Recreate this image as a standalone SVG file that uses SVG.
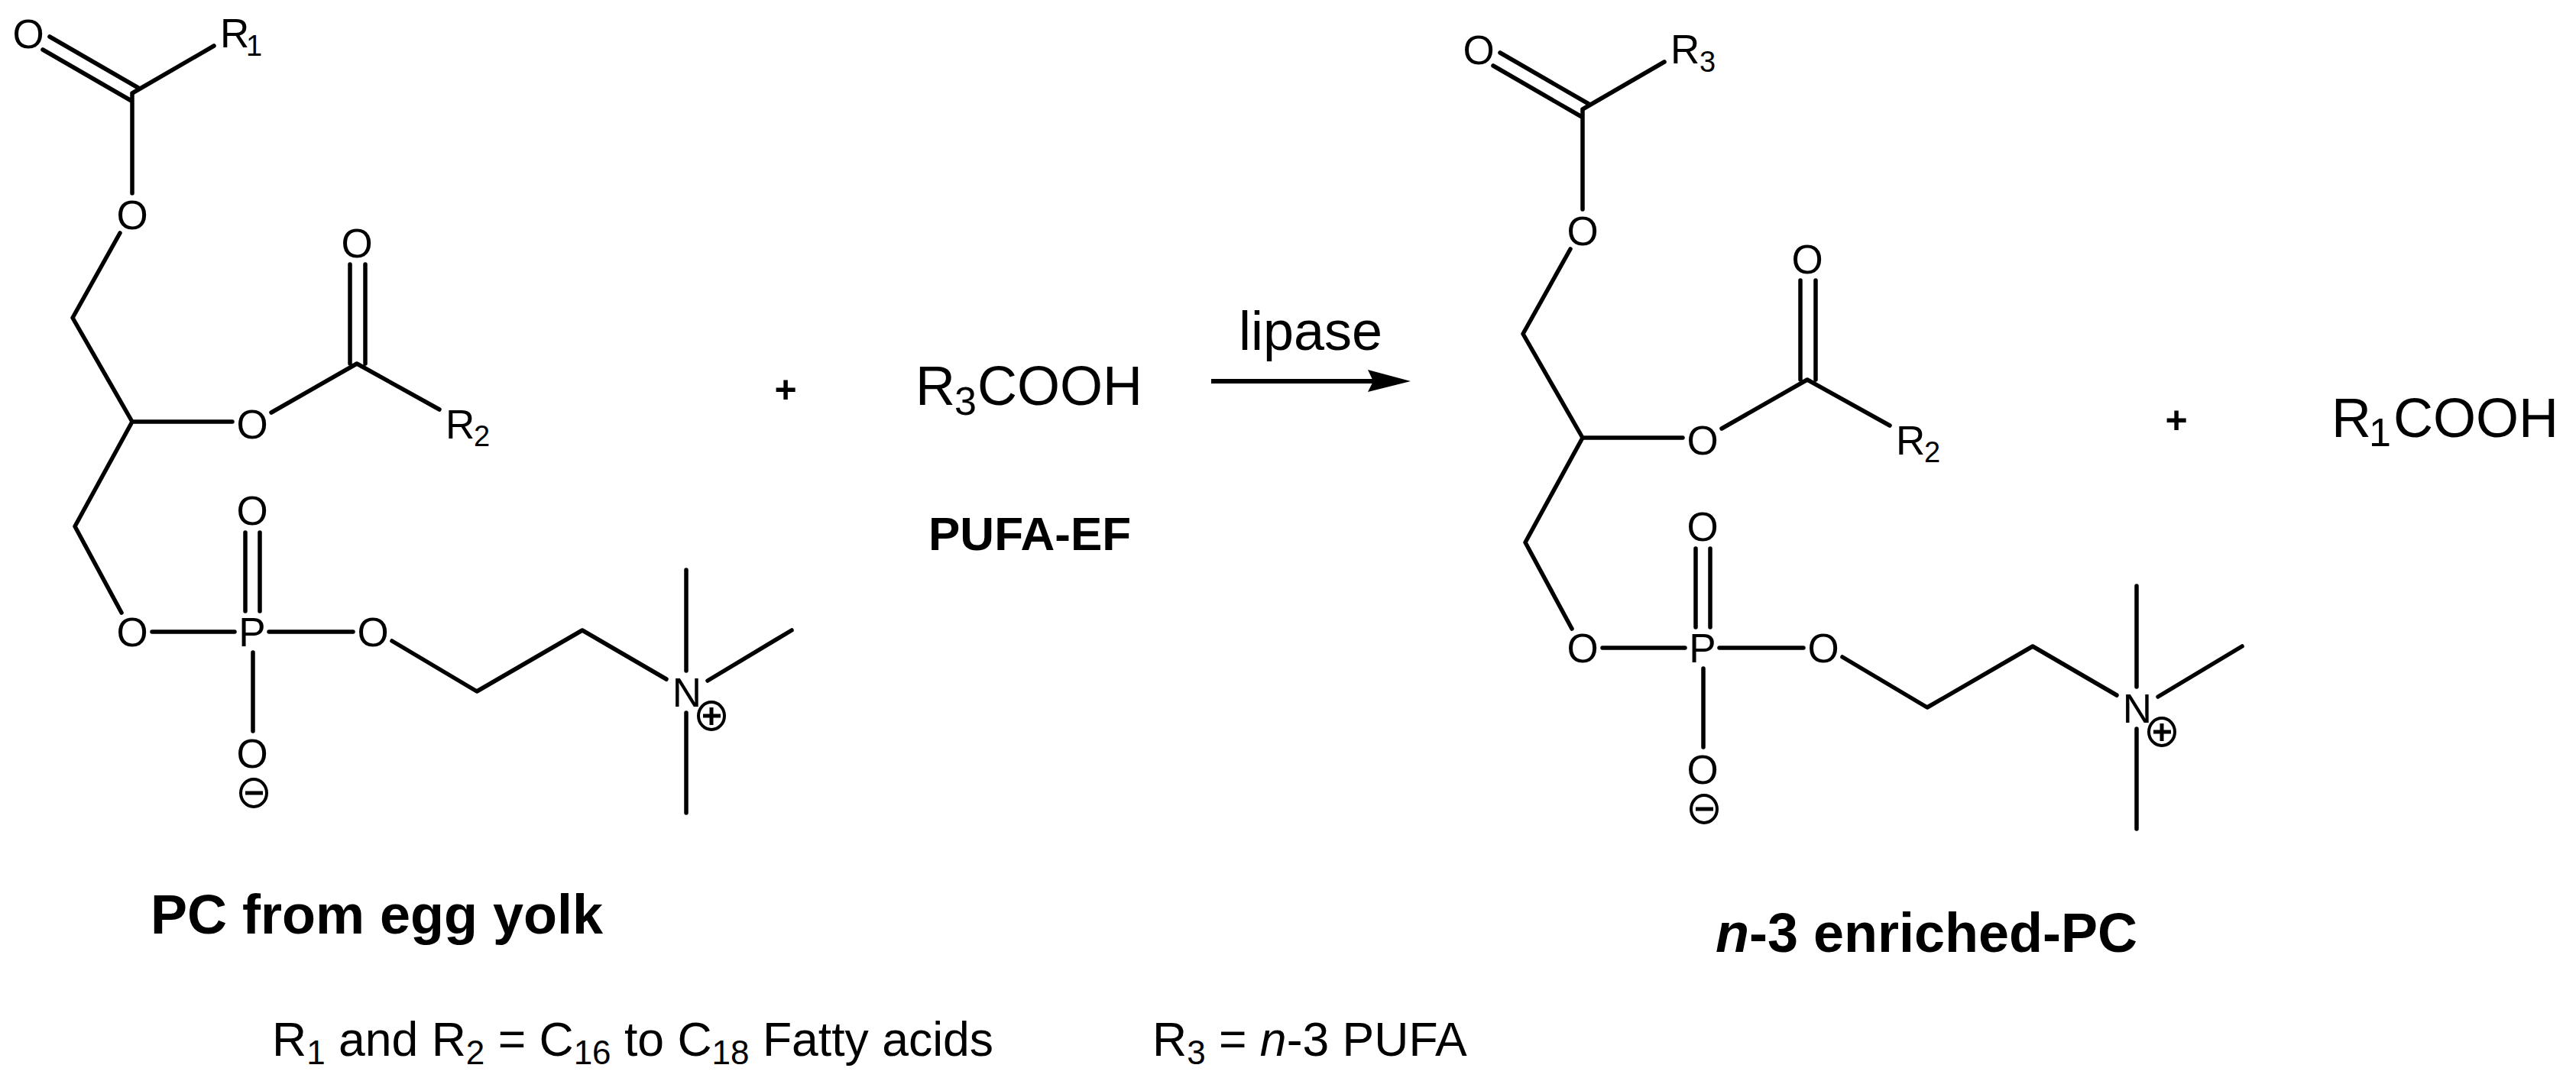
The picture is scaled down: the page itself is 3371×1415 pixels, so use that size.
<svg xmlns="http://www.w3.org/2000/svg" width="3371" height="1415" viewBox="0 0 3371 1415">
<style>
text{font-family:"Liberation Sans",Arial,sans-serif;fill:#000}
.a{font-size:53px;text-anchor:middle}
.r{font-size:53px}
.s{font-size:38px}
.big{font-size:72px}
.sb{font-size:52px}
.b{font-weight:bold}
.foot{font-size:62.5px}
.fs{font-size:44px}
.bond{fill:none;stroke:#000;stroke-width:5.5;stroke-linecap:round;stroke-linejoin:round}
.ch{fill:none;stroke:#000;stroke-width:4}
.sign{fill:none;stroke:#000;stroke-width:5}
</style>
<defs>
<g id="bonds" class="bond">
<path d="M65 48L181 115M56 65L172 132M173 122L280 60M173 122V253M157 305L95 416L173 552H304"/>
<path d="M355 540L467 476L575 536M458 346V476M478 346V476"/>
<path d="M173 552L98 689L159 802M199 827H307M352 827H462M321 697V800M340 697V800M331 854V957"/>
<path d="M513 839L624 905L762 825L872 889M898 746V878M898 933V1064M926 891L1036 825"/>
</g>
<g id="plus"><ellipse class="ch" cx="931" cy="937" rx="17" ry="18"/><path class="sign" d="M920 937H943M931 926V949"/></g>
<g id="minus"><ellipse class="ch" cx="332" cy="1038" rx="17" ry="18"/><path class="sign" d="M321 1038H344"/></g>
</defs>
<rect width="3371" height="1415" fill="#fff"/>
<g id="connectors">
<use href="#bonds"/>
<use href="#bonds" x="1898" y="21"/>
<path d="M1585 499H1798" fill="none" stroke="#000" stroke-width="6"/>
<path d="M1846 499L1790 484L1797 499L1790 513Z" fill="#000"/>
</g>
<g id="pc-egg-yolk">
<g id="l-o1"><text class="a" x="37" y="63">O</text></g>
<g id="l-r1"><text class="r" x="288" y="62">R</text><text class="s" x="322" y="73">1</text></g>
<g id="l-o2"><text class="a" x="173" y="300">O</text></g>
<g id="l-o3"><text class="a" x="330" y="574">O</text></g>
<g id="l-o4"><text class="a" x="467" y="337">O</text></g>
<g id="l-r2"><text class="r" x="583" y="574">R</text><text class="s" x="620" y="584">2</text></g>
<g id="l-o5"><text class="a" x="173" y="846">O</text></g>
<g id="l-p"><text class="a" x="330" y="846">P</text></g>
<g id="l-o6"><text class="a" x="488" y="846">O</text></g>
<g id="l-o7"><text class="a" x="330" y="687">O</text></g>
<g id="l-o8"><text class="a" x="330" y="1005">O</text><use href="#minus"/></g>
<g id="l-n"><text class="a" x="899" y="925">N</text><use href="#plus"/></g>
</g>
<g id="n3-enriched-pc" transform="translate(1898 21)">
<g id="r-o1"><text class="a" x="37" y="63">O</text></g>
<g id="r-r3"><text class="r" x="288" y="62">R</text><text class="s" x="326" y="73">3</text></g>
<g id="r-o2"><text class="a" x="173" y="300">O</text></g>
<g id="r-o3"><text class="a" x="330" y="574">O</text></g>
<g id="r-o4"><text class="a" x="467" y="337">O</text></g>
<g id="r-r2"><text class="r" x="583" y="574">R</text><text class="s" x="620" y="584">2</text></g>
<g id="r-o5"><text class="a" x="173" y="846">O</text></g>
<g id="r-p"><text class="a" x="330" y="846">P</text></g>
<g id="r-o6"><text class="a" x="488" y="846">O</text></g>
<g id="r-o7"><text class="a" x="330" y="687">O</text></g>
<g id="r-o8"><text class="a" x="330" y="1005">O</text><use href="#minus"/></g>
<g id="r-n"><text class="a" x="899" y="925">N</text><use href="#plus"/></g>
</g>
<g id="plus-1"><text class="b" font-size="50" text-anchor="middle" x="1028" y="527">+</text></g>
<g id="r3cooh"><text class="big" y="530"><tspan x="1198">R</tspan><tspan class="sb" x="1249" y="543">3</tspan><tspan x="1279" y="530">COOH</tspan></text></g>
<g id="pufa-ef"><text class="b" font-size="62" x="1215" y="720">PUFA-EF</text></g>
<g id="lipase"><text class="big" x="1621" y="458">lipase</text></g>
<g id="plus-2"><text class="b" font-size="50" text-anchor="middle" x="2848" y="567">+</text></g>
<g id="r1cooh"><text class="big" y="572"><tspan x="3051">R</tspan><tspan class="sb" x="3100" y="584">1</tspan><tspan x="3132" y="572">COOH</tspan></text></g>
<g id="label-pc"><text class="b big" x="197" y="1222">PC from egg yolk</text></g>
<g id="label-n3"><text class="b big" x="2245" y="1246"><tspan font-style="italic">n</tspan>-3 enriched-PC</text></g>
<g id="footnote-1"><text class="foot" x="356" y="1382">R<tspan class="fs" dy="11">1</tspan><tspan dy="-11"> and R</tspan><tspan class="fs" dy="11">2</tspan><tspan dy="-11"> = C</tspan><tspan class="fs" dy="11">16</tspan><tspan dy="-11"> to C</tspan><tspan class="fs" dy="11">18</tspan><tspan dy="-11"> Fatty acids</tspan></text></g>
<g id="footnote-2"><text class="foot" x="1508" y="1382">R<tspan class="fs" dy="11">3</tspan><tspan dy="-11"> = </tspan><tspan font-style="italic">n</tspan>-3 PUFA</text></g>
</svg>
